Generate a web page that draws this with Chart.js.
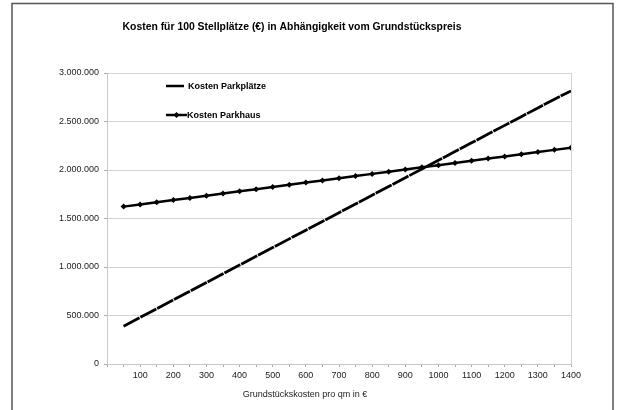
<!DOCTYPE html>
<html>
<head>
<meta charset="utf-8">
<script src="https://cdn.jsdelivr.net/npm/chart.js@4.4.1/dist/chart.umd.min.js"></script>
<style>
  html, body { margin: 0; padding: 0; background: #fff; }
  #wrap { position: relative; width: 619px; height: 410px; }
</style>
</head>
<body>
<div id="wrap"><canvas id="myChart" width="619" height="410"></canvas></div>
<script>
// Grundstückspreis pro qm (€)
const prices = [50, 100, 150, 200, 250, 300, 350, 400, 450, 500, 550, 600, 650, 700,
                750, 800, 850, 900, 950, 1000, 1050, 1100, 1150, 1200, 1250, 1300, 1350, 1400];

const kostenParkplaetze = [390000, 480000, 570000, 660000, 750000, 840000, 930000, 1020000,
                           1110000, 1200000, 1290000, 1380000, 1470000, 1560000, 1650000,
                           1740000, 1830000, 1920000, 2010000, 2100000, 2190000, 2280000,
                           2370000, 2460000, 2550000, 2640000, 2730000, 2815000];

const kostenParkhaus = [1622500, 1645000, 1667500, 1690000, 1712500, 1735000, 1757500, 1780000,
                        1802500, 1825000, 1847500, 1870000, 1892500, 1915000, 1937500, 1960000,
                        1982500, 2005000, 2027500, 2050000, 2072500, 2095000, 2117500, 2140000,
                        2162500, 2185000, 2207500, 2230000];

const seriesNames = ['Kosten Parkplätze', 'Kosten Parkhaus'];
const chartTitle = 'Kosten für 100 Stellplätze (€) in Abhängigkeit vom Grundstückspreis';
const xTitle = 'Grundstückskosten pro qm in €';

const font = '"Liberation Sans", Arial, sans-serif';

function fmt(v) {
    return String(v).replace(/\B(?=(\d{3})+(?!\d))/g, '.');
}

// frame, title, axis title and legend drawn by hand
const extras = {
    id: 'extras',
    afterDraw(chart) {
        const c = chart.ctx;
        c.save();
        c.strokeStyle = '#555';
        c.lineWidth = 1.5;
        c.beginPath();
        c.moveTo(12, 412);
        c.lineTo(12, 3.5);
        c.lineTo(613, 3.5);
        c.lineTo(613, 412);
        c.stroke();

        c.fillStyle = '#000';
        c.textAlign = 'center';
        c.textBaseline = 'middle';
        c.font = 'bold 10.4px ' + font;
        c.fillText(chartTitle, 292, 27);

        c.font = '9px ' + font;
        c.fillStyle = '#222';
        c.fillText(xTitle, 305, 395);

        // legend
        c.textAlign = 'left';
        c.font = 'bold 9px ' + font;
        c.fillStyle = '#000';
        c.strokeStyle = '#000';
        c.lineWidth = 2.5;
        c.beginPath();
        c.moveTo(166, 86);
        c.lineTo(184, 86);
        c.stroke();
        c.fillText(seriesNames[0], 188, 87);

        c.beginPath();
        c.moveTo(166, 115);
        c.lineTo(187, 115);
        c.stroke();
        c.beginPath();
        c.moveTo(176.5, 112);
        c.lineTo(179.5, 115);
        c.lineTo(176.5, 118);
        c.lineTo(173.5, 115);
        c.closePath();
        c.fill();
        c.fillText(seriesNames[1], 187, 116);
        c.restore();
    }
};

const ctx = document.getElementById('myChart').getContext('2d');
const chart = new Chart(ctx, {
    type: 'line',
    data: {
        labels: prices,
        datasets: [{
            label: seriesNames[0],
            data: prices.map((p, i) => ({ x: p, y: kostenParkplaetze[i] })),
            borderColor: '#000',
            backgroundColor: '#000',
            borderWidth: 2.8,
            borderDash: [18, 1],
            pointRadius: 0,
            tension: 0
        }, {
            label: seriesNames[1],
            data: prices.map((p, i) => ({ x: p, y: kostenParkhaus[i] })),
            borderColor: '#000',
            backgroundColor: '#000',
            borderWidth: 2.5,
            pointStyle: 'rectRot',
            pointRadius: 3,
            pointBorderWidth: 0,
            tension: 0
        }]
    },
    options: {
        responsive: false,
        animation: false,
        layout: { padding: { top: 73, right: 48, bottom: 0, left: 0 } },
        plugins: {
            legend: { display: false },
            title: { display: false },
            tooltip: { enabled: false }
        },
        scales: {
            x: {
                type: 'linear',
                min: 0,
                max: 1400,
                afterFit(scale) { scale.height = 46; },
                ticks: {
                    stepSize: 50,
                    autoSkip: false,
                    maxRotation: 0,
                    padding: 3,
                    color: '#222',
                    font: { family: font, size: 9 },
                    callback: (v) => (v > 0 && v % 100 === 0) ? String(v) : ''
                },
                grid: {
                    color: (c) => (c.tick && c.tick.value === 1400) ? '#d4d4d4' : 'rgba(0,0,0,0)',
                    tickColor: '#aaa',
                    tickLength: 3
                },
                border: { color: '#c8c8c8' }
            },
            y: {
                min: 0,
                max: 3000000,
                afterFit(scale) { scale.width = 107; },
                ticks: {
                    stepSize: 500000,
                    padding: 5,
                    color: '#222',
                    font: { family: font, size: 9 },
                    callback: (v) => fmt(v)
                },
                grid: {
                    color: '#d4d4d4',
                    tickColor: '#aaa',
                    tickLength: 3
                },
                border: { color: '#c8c8c8' }
            }
        }
    },
    plugins: [extras]
});
</script>
</body>
</html>
